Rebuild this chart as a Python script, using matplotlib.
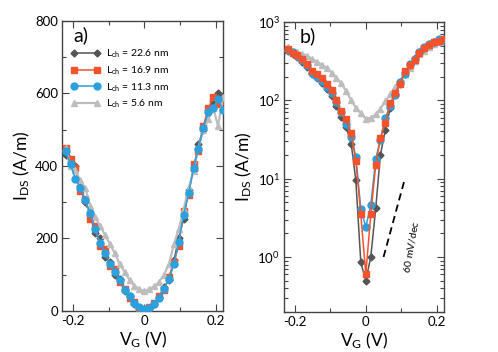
import numpy as np
import matplotlib
matplotlib.use('Agg')
import matplotlib.pyplot as plt
from matplotlib.ticker import MultipleLocator, LogLocator, NullFormatter

plt.rcParams['font.family'] = ['Lato', 'DejaVu Sans']
plt.rcParams['mathtext.default'] = 'regular'

# Gate voltage grid (V)
vg = [-0.22, -0.206, -0.193, -0.179, -0.165, -0.151, -0.138, -0.124, -0.11, -0.096,
      -0.083, -0.069, -0.055, -0.041, -0.028, -0.014, 0.0, 0.014, 0.028, 0.041,
      0.055, 0.069, 0.083, 0.096, 0.11, 0.124, 0.138, 0.151, 0.165, 0.179,
      0.193, 0.206, 0.22]

labels = ['L$_{ch}$ = 22.6 nm', 'L$_{ch}$ = 16.9 nm', 'L$_{ch}$ = 11.3 nm', 'L$_{ch}$ = 5.6 nm']

# panel a) linear scale, I_DS (A/m)
lin_226 = [430, 410, 400, 345, 300, 265, 215, 200, 150, 135, 100, 88, 55, 42, 20, 6, 1,
           6, 20, 38, 65, 85, 140, 200, 255, 335, 390, 460, 500, 555, 580, 600, 590]
lin_169 = [450, 420, 395, 330, 310, 255, 235, 180, 170, 125, 115, 80, 62, 36, 25, 8, 2,
           10, 22, 40, 58, 95, 135, 180, 275, 320, 405, 440, 510, 560, 590, 570, 580]
lin_113 = [440, 405, 365, 340, 305, 270, 225, 188, 160, 130, 108, 85, 58, 40, 22, 10, 5,
           8, 18, 35, 62, 88, 130, 190, 265, 325, 395, 448, 505, 548, 560, 585, 555]
lin_56 = [450, 400, 390, 360, 340, 290, 260, 235, 210, 185, 160, 130, 108, 85, 70, 60, 55,
          60, 68, 80, 100, 130, 185, 225, 280, 340, 385, 450, 500, 530, 560, 510, 590]

# panel b) log scale, I_DS (A/m)
log_226 = [430, 395, 360, 310, 270, 220, 190, 165, 140, 115, 85, 62, 45, 28, 9.5, 0.85, 0.5,
           1.0, 4.2, 20, 42, 80, 120, 160, 230, 285, 345, 410, 470, 520, 550, 580, 600]
log_169 = [450, 400, 380, 340, 290, 235, 215, 195, 160, 135, 100, 72, 58, 38, 17, 3.5, 0.6,
           3.5, 15, 33, 52, 92, 125, 160, 235, 280, 330, 400, 470, 510, 560, 580, 610]
log_113 = [440, 410, 370, 330, 280, 225, 200, 175, 150, 125, 95, 70, 50, 34, 19, 4.1, 2.4,
           4.6, 18, 31, 60, 85, 118, 170, 220, 290, 340, 410, 480, 520, 560, 600, 590]
log_56 = [480, 430, 410, 395, 370, 340, 310, 285, 260, 225, 195, 165, 130, 100, 80, 68, 58,
          60, 66, 78, 98, 120, 150, 178, 215, 260, 320, 385, 430, 475, 520, 550, 570]

colors = ['#555555', '#f4522d', '#2ba0dc', '#bdbdbd']
markers = ['D', 's', 'o', '^']
msizes = [3.5, 4.2, 5, 5]
lwidths = [1.1, 1.1, 1.1, 1.6]

fig = plt.figure(figsize=(4.98, 3.52), dpi=100)
ax1 = fig.add_axes([0.1245, 0.1165, 0.3233, 0.8239])
ax2 = fig.add_axes([0.5703, 0.1145, 0.3213, 0.823])

# left panel: linear
z1 = [2, 3, 5, 4]
for y, c, m, ms, lw, lab, z in zip([lin_226, lin_169, lin_113, lin_56], colors, markers,
                                   msizes, lwidths, labels, z1):
    ax1.plot(vg, y, color=c, marker=m, ms=ms, lw=lw, mec=c, label=lab, zorder=z)

ax1.set_xlim(-0.23, 0.22)
ax1.set_ylim(0, 800)
ax1.xaxis.set_minor_locator(MultipleLocator(0.1))
ax1.yaxis.set_major_locator(MultipleLocator(200))
ax1.yaxis.set_minor_locator(MultipleLocator(100))
ax1.set_xticks([-0.2, 0, 0.2])
ax1.set_xticklabels(['-0.2', '0', '0.2'])
ax1.set_xlabel('V$_G$ (V)', fontsize=12.5, labelpad=2)
ax1.set_ylabel('I$_{DS}$ (A/m)', fontsize=12.5, labelpad=2)
ax1.text(0.068, 0.95, 'a)', transform=ax1.transAxes, fontsize=14, ha='left', va='center')
ax1.legend(loc='upper left', bbox_to_anchor=(0.03, 0.922), borderaxespad=0, frameon=False,
           fontsize=7.5, numpoints=2, handlelength=2.8, handletextpad=0.6, labelspacing=0.4)

# right panel: log
z2 = [3, 5, 4, 2]
for y, c, m, ms, lw, z in zip([log_226, log_169, log_113, log_56], colors, markers,
                              msizes, lwidths, z2):
    ax2.plot(vg, y, color=c, marker=m, ms=ms, lw=lw, mec=c, zorder=z)

ax2.set_yscale('log')
ax2.set_xlim(-0.23, 0.22)
ax2.set_ylim(0.2, 1000)
ax2.xaxis.set_minor_locator(MultipleLocator(0.1))
ax2.set_xticks([-0.2, 0, 0.2])
ax2.set_xticklabels(['-0.2', '0', '0.2'])
ax2.yaxis.set_major_locator(LogLocator(base=10, numticks=10))
ax2.yaxis.set_minor_locator(LogLocator(base=10, subs=np.arange(2, 10), numticks=20))
ax2.yaxis.set_minor_formatter(NullFormatter())
ax2.set_xlabel('V$_G$ (V)', fontsize=12.5, labelpad=2)
ax2.set_ylabel('I$_{DS}$ (A/m)', fontsize=12.5, labelpad=2)
ax2.text(0.1, 0.95, 'b)', transform=ax2.transAxes, fontsize=14, ha='left', va='center')

# 60 mV/dec reference slope
ax2.plot([0.05, 0.11], [1, 10], color='black', lw=1.3, ls=(0, (4, 2.5)))
ax2.text(0.128, 1.35, '$60\\ mV/dec$', fontsize=7.5, rotation=80, ha='center', va='center',
         color='black')

for ax in (ax1, ax2):
    ax.tick_params(which='both', direction='in', top=True, right=True, labelsize=9.5,
                   color='#444444', labelcolor='black', pad=3)
    ax.tick_params(which='major', length=5, width=0.8)
    ax.tick_params(which='minor', length=3, width=0.8)
    for s in ax.spines.values():
        s.set_color('#444444')
        s.set_linewidth(1.0)

plt.savefig('out.png', dpi=100)
